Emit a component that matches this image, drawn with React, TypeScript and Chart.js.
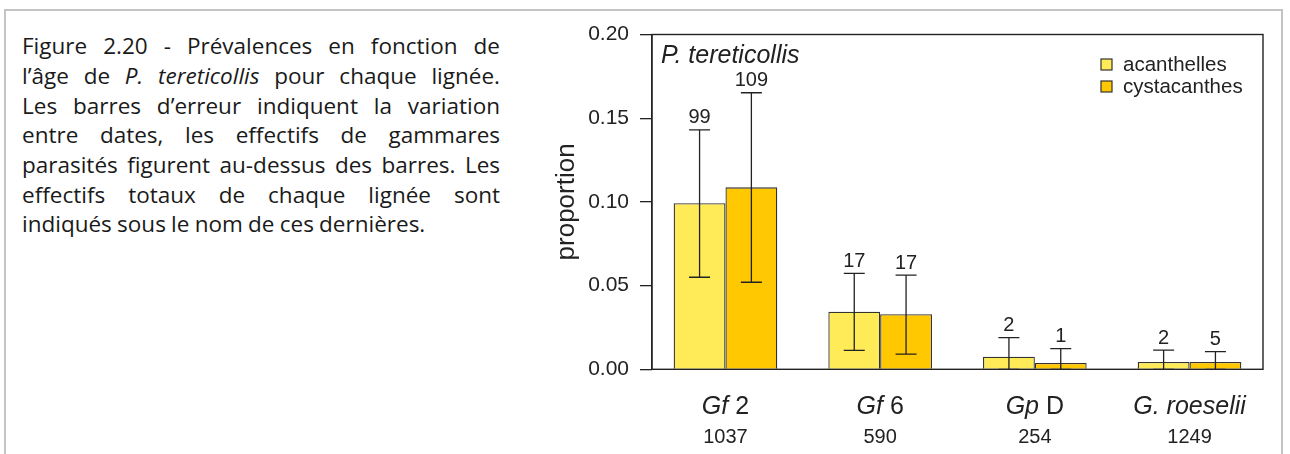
import React, { useEffect, useRef } from 'react';
import { Chart, registerables } from 'chart.js';

Chart.register(...registerables);

// ---------- data ----------
const categories = ['Gf 2', 'Gf 6', 'Gp D', 'G. roeselii'];
const categoryItalic = ['Gf', 'Gf', 'Gp', 'G. roeselii'];
const totals = [1037, 590, 254, 1249];
const seriesNames = ['acanthelles', 'cystacanthes'];
const acanthelles = [0.0992, 0.0344, 0.0075, 0.0044];
const cystacanthes = [0.1087, 0.0329, 0.0038, 0.0044];
const acanthLow = [0.055, 0.0113, 0, 0];
const acanthHigh = [0.143, 0.0573, 0.0189, 0.0115];
const cystaLow = [0.052, 0.0091, 0, 0];
const cystaHigh = [0.1652, 0.0563, 0.0123, 0.0105];
const acanthCounts = [99, 17, 2, 2];
const cystaCounts = [109, 17, 1, 5];
const yMin = 0;
const yMax = 0.2;
const yStep = 0.05;
const panelTitle = 'P. tereticollis';
const yTitle = 'proportion';

const seriesColors = ['#FFEA57', '#FFC800'];
const FONT = "'Liberation Sans', Arial, sans-serif";
const INK = '#222222';

export default function App() {
  const ref = useRef<HTMLCanvasElement>(null);

  useEffect(() => {
    const canvas = ref.current!;
    const lows = [acanthLow, cystaLow];
    const highs = [acanthHigh, cystaHigh];
    const counts = [acanthCounts, cystaCounts];

    const boxPlugin = {
      id: 'box',
      afterDraw(chart: any) {
        const { ctx, chartArea: a } = chart;
        ctx.save();
        ctx.strokeStyle = INK;
        ctx.lineWidth = 1.4;
        ctx.strokeRect(a.left, a.top, a.right - a.left, a.bottom - a.top);
        ctx.restore();
      },
    };

    const errorPlugin = {
      id: 'errbars',
      afterDatasetsDraw(chart: any) {
        const { ctx } = chart;
        const ys = chart.scales.y;
        ctx.save();
        ctx.strokeStyle = INK;
        ctx.lineWidth = 1.3;
        ctx.fillStyle = INK;
        ctx.font = `20px ${FONT}`;
        ctx.textAlign = 'center';
        ctx.textBaseline = 'alphabetic';
        for (let d = 0; d < 2; d++) {
          const meta = chart.getDatasetMeta(d);
          meta.data.forEach((bar: any, i: number) => {
            const x = bar.x;
            const yh = ys.getPixelForValue(highs[d][i]);
            const yl = ys.getPixelForValue(lows[d][i]);
            ctx.beginPath();
            ctx.moveTo(x, yl);
            ctx.lineTo(x, yh);
            ctx.moveTo(x - 10.5, yh);
            ctx.lineTo(x + 10.5, yh);
            ctx.moveTo(x - 10.5, yl);
            ctx.lineTo(x + 10.5, yl);
            ctx.stroke();
            ctx.fillText(String(counts[d][i]), x, yh - 6.5);
          });
        }
        ctx.restore();
      },
    };

    const labelPlugin = {
      id: 'xlabels',
      afterDraw(chart: any) {
        const { ctx } = chart;
        const xs = chart.scales.x;
        const a = chart.chartArea;
        ctx.save();
        ctx.fillStyle = INK;
        ctx.textBaseline = 'alphabetic';
        categories.forEach((label, i) => {
          const x = xs.getPixelForValue(i);
          const it = categoryItalic[i];
          const rest = label.slice(it.length);
          ctx.font = `italic 25px ${FONT}`;
          const w1 = ctx.measureText(it).width;
          ctx.font = `25px ${FONT}`;
          const w2 = ctx.measureText(rest).width;
          let sx = x - (w1 + w2) / 2;
          ctx.textAlign = 'left';
          ctx.font = `italic 25px ${FONT}`;
          ctx.fillText(it, sx, a.bottom + 45);
          ctx.font = `25px ${FONT}`;
          ctx.fillText(rest, sx + w1, a.bottom + 45);
          ctx.textAlign = 'center';
          ctx.font = `20px ${FONT}`;
          ctx.fillText(String(totals[i]), x, a.bottom + 74);
        });
        // panel title
        ctx.textAlign = 'left';
        ctx.font = `italic 25px ${FONT}`;
        ctx.fillText(panelTitle, a.left + 9, a.top + 28);
        // legend
        ctx.font = `20.5px ${FONT}`;
        ctx.textBaseline = 'middle';
        chart.data.datasets.forEach((ds: any, d: number) => {
          const cy = a.top + 30 + d * 22;
          const sx0 = a.right - 162;
          ctx.fillStyle = ds.backgroundColor;
          ctx.fillRect(sx0, cy - 5.5, 11, 11);
          ctx.strokeStyle = '#333';
          ctx.lineWidth = 1.2;
          ctx.strokeRect(sx0, cy - 5.5, 11, 11);
          ctx.fillStyle = INK;
          ctx.fillText(ds.label, sx0 + 22, cy + 1);
        });
        ctx.restore();
      },
    };

    const chart = new Chart(canvas, {
      type: 'bar',
      data: {
        datasets: [
          {
            label: seriesNames[0],
            data: acanthelles.map((v, i) => ({ x: i, y: v })),
            backgroundColor: seriesColors[0],
            borderColor: '#333333',
            borderWidth: 1.3,
          },
          {
            label: seriesNames[1],
            data: cystacanthes.map((v, i) => ({ x: i, y: v })),
            backgroundColor: seriesColors[1],
            borderColor: '#333333',
            borderWidth: 1.3,
          },
        ],
      },
      options: {
        animation: false,
        responsive: false,
        maintainAspectRatio: false,
        devicePixelRatio: 1,
        categoryPercentage: 0.67,
        barPercentage: 1,
        layout: { padding: { left: 0, right: 27, top: 34.5, bottom: 0 } },
        plugins: { legend: { display: false }, tooltip: { enabled: false }, title: { display: false } },
        scales: {
          x: {
            type: 'linear',
            min: -0.475,
            max: 3.475,
            offset: false,
            grid: { display: false },
            border: { display: false },
            ticks: { display: false },
            afterBuildTicks: (s: any) => {
              s.ticks = categories.map((_, i) => ({ value: i }));
            },
            afterFit: (s: any) => {
              s.height = 84.7;
            },
          },
          y: {
            min: yMin,
            max: yMax,
            grid: { drawOnChartArea: false, drawTicks: true, tickLength: 12, color: INK, lineWidth: 1.3 },
            border: { display: true, color: INK, width: 1.3 },
            ticks: {
              stepSize: yStep,
              padding: 11,
              color: INK,
              font: { family: FONT, size: 21 },
              callback: (v: any) => Number(v).toFixed(2),
            },
            title: {
              display: true,
              text: yTitle,
              color: INK,
              font: { family: FONT, size: 26 },
              padding: { top: 11, bottom: 0 },
            },
            afterFit: (s: any) => {
              s.width = 112;
            },
          },
        },
      } as any,
      plugins: [errorPlugin, labelPlugin, boxPlugin],
    });
    return () => chart.destroy();
  }, []);

  const lineStyle: React.CSSProperties = { textAlign: 'justify', textAlignLast: 'justify' as any };
  return (
    <div style={{ position: 'fixed', left: 0, top: 0, width: 1290, height: 454, overflow: 'hidden', background: '#fff' }}>
      <div style={{ position: 'absolute', left: 4, top: 9, width: 1279, height: 470, border: '2.5px solid #c4c4c4', boxSizing: 'border-box' }} />
      <div
        style={{
          position: 'absolute',
          left: 22,
          top: 31.2,
          width: 478,
          fontFamily: "'Open Sans', Lato, sans-serif",
          fontSize: 22.5,
          wordSpacing: '-0.6px',
          lineHeight: '29.7px',
          color: '#1a1a1a',
        }}
      >
        <div style={lineStyle}>Figure 2.20 - Prévalences en fonction de</div>
        <div style={lineStyle}>
          l’âge de <i>P. tereticollis</i> pour chaque lignée.
        </div>
        <div style={lineStyle}>Les barres d’erreur indiquent la variation</div>
        <div style={lineStyle}>entre dates, les effectifs de gammares</div>
        <div style={lineStyle}>parasités figurent au-dessus des barres. Les</div>
        <div style={lineStyle}>effectifs totaux de chaque lignée sont</div>
        <div>indiqués sous le nom de ces dernières.</div>
      </div>
      <canvas ref={ref} width={750} height={454} style={{ position: 'absolute', left: 540, top: 0, width: 750, height: 454 }} />
    </div>
  );
}
